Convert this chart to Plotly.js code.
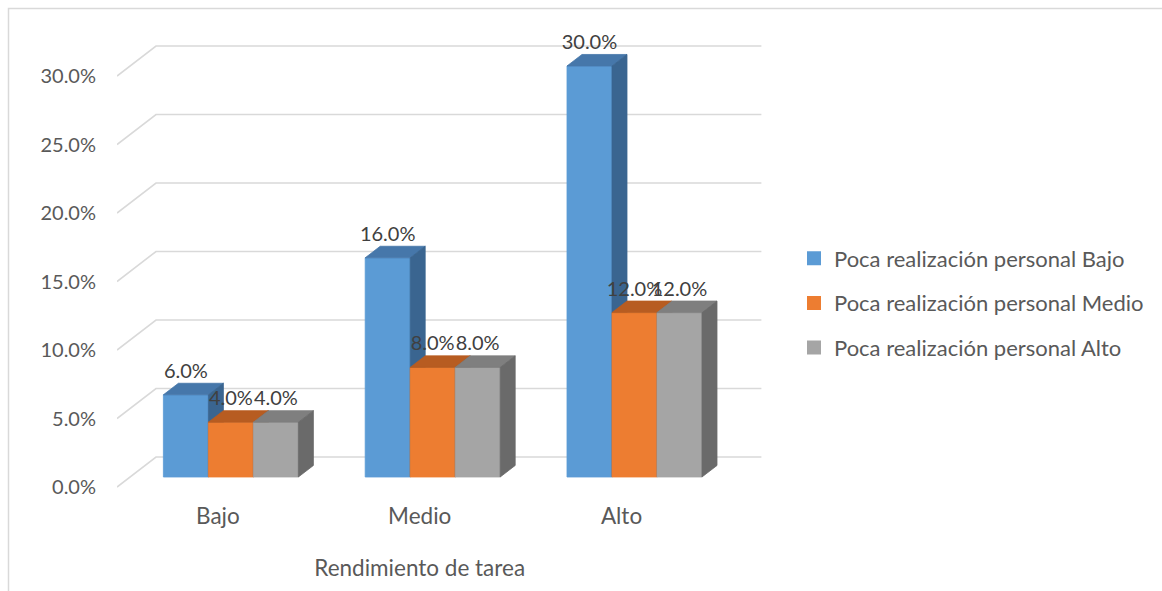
<!DOCTYPE html>
<html>
<head>
<meta charset="utf-8">
<script src="https://cdn.plot.ly/plotly-3.0.1.min.js"></script>
<style>
  html, body { margin: 0; padding: 0; background: #ffffff; }
  #chart { width: 1162px; height: 591px; }
</style>
</head>
<body>
<div id="chart"></div>
<script>
// ---------------- data ----------------
const categories = ['Bajo', 'Medio', 'Alto'];
const seriesNames = [
  'Poca realización personal Bajo',
  'Poca realización personal Medio',
  'Poca realización personal Alto'
];
const valuesBajo  = [0.06, 0.16, 0.30];
const valuesMedio = [0.04, 0.08, 0.12];
const valuesAlto  = [0.04, 0.08, 0.12];
const yTickVals = [0, 0.05, 0.10, 0.15, 0.20, 0.25, 0.30];
const xAxisTitle = 'Rendimiento de tarea';

// ---------------- style ----------------
const FONT = 'Lato, "Open Sans", sans-serif';
const frontColors = ['#5B9BD5', '#ED7D31', '#A5A5A5'];
const topColors   = ['#4677AA', '#B75C21', '#7F7F7F'];
const sideColors  = ['#3A6590', '#9E4E1B', '#6A6A6A'];
const gridColor = '#D9D9D9';

// pseudo-3D geometry (axis units)
const W = 1162, H = 591;
const M = {l: 117, r: 382, t: 30, b: 91};
const pxPerX = 201.8, pxPerY = 1370;
const plotW = W - M.l - M.r, plotH = H - M.t - M.b;
const floorL = -0.5, floorR = 2.5;
const xRangeWall = [floorL, floorL + plotW / pxPerX];     // full plot width (walls)
const xRangeFloor = [floorL, floorR];                      // floor width (bars, ticks, title)
const floorDomainEnd = (floorR - floorL) * pxPerX / plotW;
const yBottom = -13 / pxPerY;
const yRange = [yBottom, yBottom + plotH / pxPerY];

const wallDX = 39 / pxPerX;      // depth shift to back wall (x)
const wallDY = 30 / pxPerY;      // depth shift to back wall (y)
const dFront = 0.333, dBack = 0.718;  // bar depth (fraction of floor depth)
const barW = 45 / pxPerX;
const labelLift = 22 / pxPerY;

const allValues = [valuesBajo, valuesMedio, valuesAlto];
const traces = [];

// back wall + left wall gridlines (on the wide wall axis)
const gx = [], gy = [];
yTickVals.forEach(t => {
  gx.push(floorL, floorL + wallDX, floorR + wallDX, null);
  gy.push(t, t + wallDY, t + wallDY, null);
});
traces.push({
  type: 'scatter', mode: 'lines', x: gx, y: gy, xaxis: 'x', yaxis: 'y',
  line: {color: gridColor, width: 1.6},
  hoverinfo: 'skip', showlegend: false, connectgaps: false
});

// bars (front, top, side faces) on the floor axis
const ddx = (dBack - dFront) * wallDX;
const ddy = (dBack - dFront) * wallDY;
const b0 = dFront * wallDY;
function barLeft(i, s) {
  return i + dFront * wallDX + (s - 1.5) * barW;
}
allValues.forEach((vals, s) => {
  const fx = [], fy = [], tx = [], ty = [], sx = [], sy = [];
  vals.forEach((v, i) => {
    const xl = barLeft(i, s), xr = xl + barW;
    fx.push(xl, xr, xr, xl, xl, null);
    fy.push(b0, b0, b0 + v, b0 + v, b0, null);
    tx.push(xl, xr, xr + ddx, xl + ddx, xl, null);
    ty.push(b0 + v, b0 + v, b0 + v + ddy, b0 + v + ddy, b0 + v, null);
    sx.push(xr, xr + ddx, xr + ddx, xr, xr, null);
    sy.push(b0, b0 + ddy, b0 + v + ddy, b0 + v, b0, null);
  });
  [[fx, fy, frontColors[s]], [tx, ty, topColors[s]], [sx, sy, sideColors[s]]].forEach(([x, y, c]) => {
    traces.push({
      type: 'scatter', mode: 'lines', x: x, y: y, xaxis: 'x2', yaxis: 'y',
      fill: 'toself', fillcolor: c, line: {color: c, width: 0.8},
      hoverinfo: 'skip', showlegend: false, connectgaps: false
    });
  });
});

// data labels
allValues.forEach((vals, s) => {
  traces.push({
    type: 'scatter', mode: 'text', xaxis: 'x2', yaxis: 'y',
    x: vals.map((v, i) => barLeft(i, s) + barW / 2),
    y: vals.map(v => b0 + v + labelLift),
    text: vals.map(v => (v * 100).toFixed(1) + '%'),
    textposition: 'middle center',
    textfont: {family: FONT, size: 20, color: '#404040'},
    hoverinfo: 'skip', showlegend: false, cliponaxis: false
  });
});

// legend entries
allValues.forEach((vals, s) => {
  traces.push({
    type: 'scatter', mode: 'markers', x: [null], y: [null], xaxis: 'x2', yaxis: 'y',
    name: seriesNames[s], legendgroup: 'g' + s,
    marker: {symbol: 'square', size: 14, color: frontColors[s]},
    hoverinfo: 'skip'
  });
});

const layout = {
  width: W, height: H,
  margin: M,
  paper_bgcolor: '#ffffff', plot_bgcolor: 'rgba(0,0,0,0)',
  font: {family: FONT, size: 20, color: '#595959'},
  showlegend: true,
  legend: {
    x: (794 - M.l) / plotW, xanchor: 'left',
    y: (H - M.b - 303) / plotH, yanchor: 'middle',
    font: {family: FONT, size: 22, color: '#595959'},
    tracegroupgap: 13, bgcolor: 'rgba(0,0,0,0)'
  },
  xaxis: {
    domain: [0, 1], anchor: 'y', range: xRangeWall,
    showgrid: false, zeroline: false, showline: false, ticks: '',
    showticklabels: false, fixedrange: true
  },
  xaxis2: {
    domain: [0, floorDomainEnd], anchor: 'y', range: xRangeFloor,
    tickvals: [0, 1, 2], ticktext: categories,
    showgrid: false, zeroline: false, showline: false, ticks: '',
    tickfont: {family: FONT, size: 22.5, color: '#595959'},
    title: {text: xAxisTitle, font: {family: FONT, size: 22.5, color: '#595959'}, standoff: 32},
    fixedrange: true
  },
  yaxis: {
    anchor: 'x', range: yRange, tickvals: yTickVals, tickformat: '.1%',
    showgrid: false, zeroline: false, showline: false, ticks: '',
    ticklabelstandoff: 20,
    tickfont: {family: FONT, size: 20, color: '#595959'},
    fixedrange: true
  },
  shapes: [{
    type: 'rect', xref: 'paper', yref: 'paper',
    x0: (8.5 - M.l) / plotW, x1: (W + 20 - M.l) / plotW,
    y0: (H - M.b - (H + 20)) / plotH, y1: (H - M.b - 8.5) / plotH,
    line: {color: '#D9D9D9', width: 1.5}, fillcolor: 'rgba(0,0,0,0)', layer: 'below'
  }]
};

Plotly.newPlot('chart', traces, layout, {displayModeBar: false, staticPlot: true});
</script>
</body>
</html>
